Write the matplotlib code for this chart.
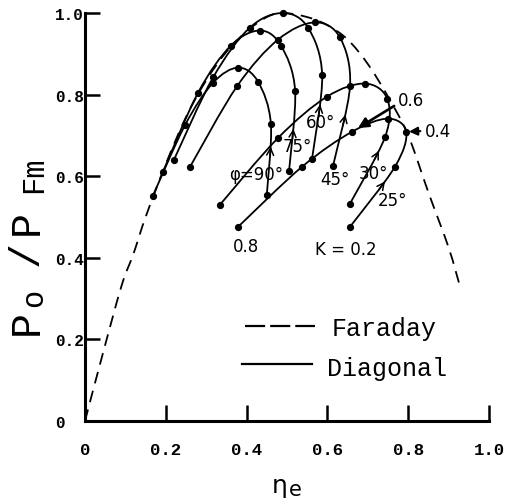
import numpy as np
import matplotlib
matplotlib.use("Agg")
import matplotlib.pyplot as plt
from matplotlib.path import Path
from matplotlib.patches import PathPatch

plt.rcParams['lines.scale_dashes'] = False

# ---- data -------------------------------------------------------------
# Faraday generator envelope
faraday_eta = [0.0, 0.04, 0.09, 0.12, 0.15, 0.20, 0.25, 0.30, 0.35, 0.40, 0.45,
               0.49, 0.55, 0.60, 0.65, 0.70, 0.75, 0.80, 0.85, 0.90, 0.928]
faraday_pow = [0.0, 0.15, 0.33, 0.41, 0.50, 0.63, 0.745, 0.835, 0.905, 0.955, 0.99,
               1.00, 0.99, 0.97, 0.935, 0.875, 0.795, 0.70, 0.56, 0.425, 0.33]

# Diagonal generator: load factor K along every constant-angle curve
load_factor = [0.8, 0.7, 0.6, 0.5, 0.4, 0.3, 0.2]
angle_labels = ["\u03c6=90\u00b0", "75\u00b0", "60\u00b0", "45\u00b0", "30\u00b0", "25\u00b0"]

eta_90 = [0.168, 0.248, 0.317, 0.379, 0.428, 0.460, 0.450]
pow_90 = [0.552, 0.726, 0.829, 0.866, 0.832, 0.729, 0.555]

eta_75 = [0.193, 0.280, 0.361, 0.433, 0.485, 0.520, 0.505]
pow_75 = [0.611, 0.805, 0.920, 0.957, 0.920, 0.810, 0.613]

eta_60 = [0.220, 0.317, 0.408, 0.490, 0.552, 0.587, 0.562]
pow_60 = [0.640, 0.842, 0.964, 1.000, 0.964, 0.847, 0.643]

eta_45 = [0.260, 0.376, 0.478, 0.569, 0.631, 0.656, 0.614]
pow_45 = [0.623, 0.820, 0.935, 0.977, 0.940, 0.822, 0.626]

eta_30 = [0.334, 0.478, 0.599, 0.693, 0.748, 0.743, 0.656]
pow_30 = [0.530, 0.694, 0.795, 0.827, 0.790, 0.697, 0.533]

eta_25 = [0.379, 0.537, 0.661, 0.750, 0.795, 0.767, 0.656]
pow_25 = [0.476, 0.623, 0.709, 0.741, 0.709, 0.623, 0.476]

x_ticks = [0.0, 0.2, 0.4, 0.6, 0.8, 1.0]
x_tick_labels = ["0", "0.2", "0.4", "0.6", "0.8", "1.0"]
y_ticks = [0.0, 0.2, 0.4, 0.6, 0.8, 1.0]
y_tick_labels = ["0", "0.2", "0.4", "0.6", "0.8", "1.0"]

# ---- helpers ----------------------------------------------------------
def _controls(pts, i):
    n = len(pts)
    p0 = pts[i - 1] if i > 0 else pts[i]
    p1, p2 = pts[i], pts[i + 1]
    p3 = pts[i + 2] if i + 2 < n else pts[i + 1]
    return p1, p1 + (p2 - p0) / 6.0, p2 - (p3 - p1) / 6.0, p2


def smooth_path(xs, ys):
    """Cubic Bezier path running through every given point."""
    pts = np.column_stack([xs, ys]).astype(float)
    verts, codes = [pts[0]], [Path.MOVETO]
    for i in range(len(pts) - 1):
        _, c1, c2, p2 = _controls(pts, i)
        verts += [c1, c2, p2]
        codes += [Path.CURVE4] * 3
    return Path(verts, codes)


def point_on_segment(xs, ys, i, t):
    pts = np.column_stack([xs, ys]).astype(float)
    p1, c1, c2, p2 = _controls(pts, i)
    return ((1 - t) ** 3 * p1 + 3 * (1 - t) ** 2 * t * c1
            + 3 * (1 - t) * t ** 2 * c2 + t ** 3 * p2)


# ---- figure -----------------------------------------------------------
fig = plt.figure(figsize=(5.30, 5.02), dpi=100)
ax = fig.add_axes([0.1604, 0.1594, 0.7623, 0.8127])
ax.set_xlim(0, 1.0)
ax.set_ylim(0, 1.0)

# Faraday envelope (dashed)
ax.add_patch(PathPatch(smooth_path(faraday_eta, faraday_pow), fill=False,
                       lw=1.3, ls=(0, (8.5, 5.5)), color='black',
                       clip_on=False, zorder=2))

curves = [(eta_90, pow_90), (eta_75, pow_75), (eta_60, pow_60),
          (eta_45, pow_45), (eta_30, pow_30), (eta_25, pow_25)]
arrow_frac = [0.68, 0.55, 0.66, 0.65, 0.78, 0.75]

for (eta, pw), frac in zip(curves, arrow_frac):
    ax.add_patch(PathPatch(smooth_path(eta, pw), fill=False, lw=1.3,
                           color='black', clip_on=False, zorder=3,
                           capstyle='round', joinstyle='round'))
    ax.plot(eta, pw, 'o', ms=4.2, color='black', clip_on=False, zorder=4)
    last = len(eta) - 2
    t_tip = 1.0 - frac
    tip = point_on_segment(eta, pw, last, t_tip)
    tail = point_on_segment(eta, pw, last, min(t_tip + 0.12, 1.0))
    ax.annotate('', xy=tip, xytext=tail,
                arrowprops=dict(arrowstyle='->,head_length=0.5,head_width=0.25',
                                lw=1.1, color='black', shrinkA=0, shrinkB=0),
                zorder=5)

# angle labels
label_pos = [(0.423, 0.605), (0.525, 0.675), (0.582, 0.734),
             (0.619, 0.592), (0.715, 0.607), (0.760, 0.541)]
for txt, (lx, ly) in zip(angle_labels, label_pos):
    ax.text(lx, ly, txt, ha='center', va='center', fontsize=12,
            family='DejaVu Sans', zorder=6)

# load-factor labels
ax.text(0.399, 0.429, "0.8", ha='center', va='center', fontsize=12,
        family='DejaVu Sans')
ax.text(0.646, 0.422, "K = 0.2", ha='center', va='center', fontsize=12,
        family='DejaVu Sans')
ax.annotate("0.6", xy=(eta_25[2], pow_25[2]), xytext=(0.775, 0.787),
            ha='left', va='center', fontsize=12, family='DejaVu Sans',
            arrowprops=dict(arrowstyle='-|>,head_length=0.5,head_width=0.25',
                            lw=1.9, color='black', relpos=(0.0, 0.3),
                            shrinkA=1, shrinkB=5))
ax.annotate("0.4", xy=(eta_25[4], pow_25[4]), xytext=(0.840, 0.711),
            ha='left', va='center', fontsize=12, family='DejaVu Sans',
            arrowprops=dict(arrowstyle='-|>,head_length=0.4,head_width=0.2',
                            lw=1.6, color='black', relpos=(0.0, 0.5),
                            shrinkA=1, shrinkB=2))

# legend drawn by hand
ax.plot([0.396, 0.569], [0.233, 0.233], color='black', lw=1.6,
        dashes=(14.5, 3.6), transform=ax.transAxes, clip_on=False)
ax.text(0.611, 0.233, "Faraday", ha='left', va='center_baseline',
        fontsize=18, family='Liberation Mono', transform=ax.transAxes)
ax.plot([0.389, 0.562], [0.140, 0.140], color='black', lw=1.6,
        transform=ax.transAxes, clip_on=False)
ax.text(0.599, 0.136, "Diagonal", ha='left', va='center_baseline',
        fontsize=18, family='Liberation Mono', transform=ax.transAxes)

# axes styling
for side in ('top', 'right'):
    ax.spines[side].set_visible(False)
for side in ('left', 'bottom'):
    ax.spines[side].set_linewidth(2.2)

ax.set_xticks(x_ticks)
ax.set_xticklabels(x_tick_labels, family='Liberation Mono', fontsize=12.5,
                   fontweight='bold')
ax.set_yticks(y_ticks)
ax.set_yticklabels(y_tick_labels, family='Liberation Mono', fontsize=11.5,
                   fontweight='bold', ha='left')
ax.tick_params(axis='x', direction='in', length=11.5, width=1.8, pad=15)
ax.tick_params(axis='y', direction='in', length=10.8, width=1.8, pad=21.6)

# y axis title  P_o / P_Fm, typed piece by piece
ylabel_parts = [("P", -0.1436, 0.244, 30), ("o", -0.1262, 0.303, 22),
                ("/", -0.1436, 0.413, 30), ("P", -0.1436, 0.488, 30),
                ("Fm", -0.1262, 0.605, 22)]
for txt, px, py, fs in ylabel_parts:
    ax.text(px, py, txt, rotation=90, ha='center', va='center', fontsize=fs,
            family='Liberation Mono', transform=ax.transAxes)

# x axis title  eta_e
ax.text(0.4814, -0.157, "\u03b7", ha='center', va='center', fontsize=18,
        family='DejaVu Sans', transform=ax.transAxes)
ax.text(0.5210, -0.166, "e", ha='center', va='center', fontsize=15,
        family='DejaVu Sans', transform=ax.transAxes)

fig.savefig("out.png", dpi=100)
